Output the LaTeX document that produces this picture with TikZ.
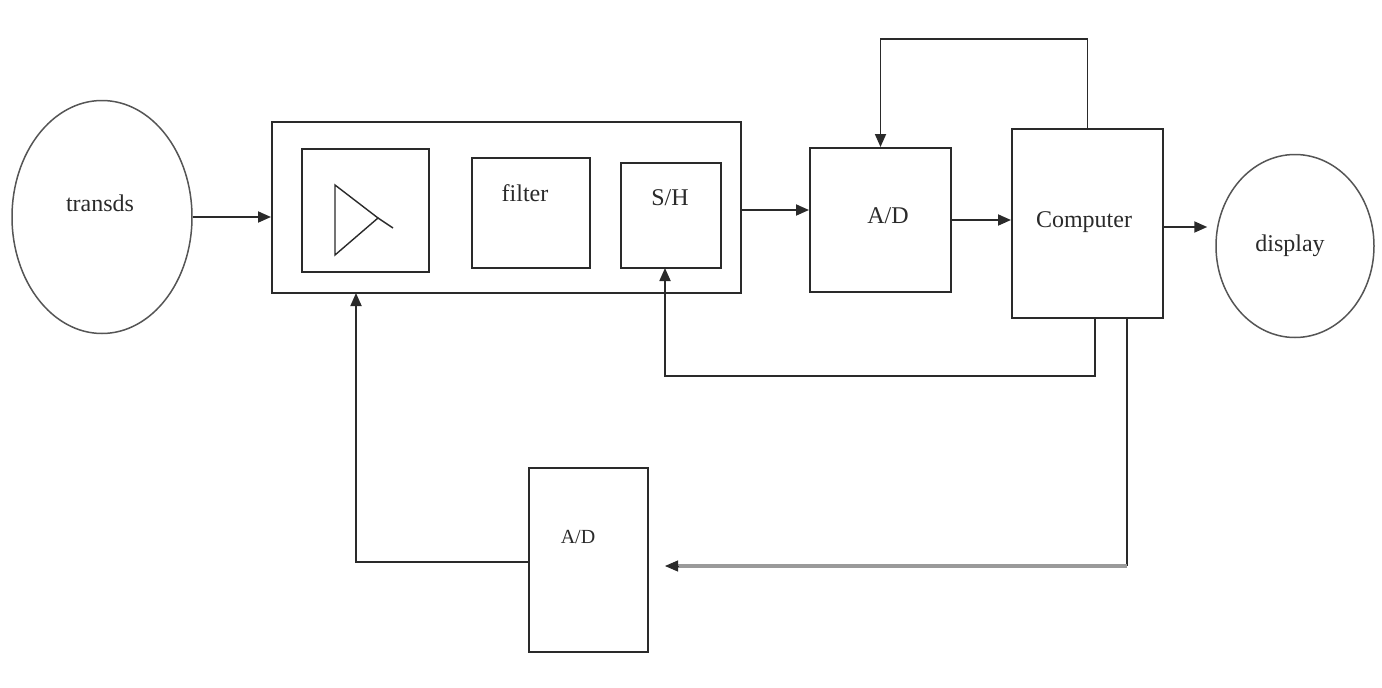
\documentclass[tikz,border=0pt]{standalone}
\usepackage{fontspec}
\setmainfont{Liberation Serif}
\usetikzlibrary{arrows.meta,shapes.geometric,calc}
\definecolor{ln}{HTML}{2A2A2A}
\definecolor{lg}{HTML}{9A9A9A}
\tikzset{
  blk/.style={draw=ln,line width=2pt,rectangle,inner sep=0pt},
  oval/.style={draw=ln!80,line width=1.5pt,ellipse,inner sep=0pt},
  lbl/.style={font=\fontsize{24}{26}\selectfont,text=ln,inner sep=0pt},
  arr/.style={draw=ln,line width=1.8pt,-{Triangle[length=13pt,width=11pt]}},
  wire/.style={draw=ln,line width=1.8pt}
}
\begin{document}
\begin{tikzpicture}[x=1pt,y=-1pt]
\useasboundingbox (0,0) rectangle (1382,688);
\fill[white] (0,0) rectangle (1382,688);
% ellipses
\node[oval,minimum width=180pt,minimum height=233pt] (trans) at (102,217) {};
\node[lbl] (transT) at (100,203) {transds};
\node[oval,minimum width=158pt,minimum height=183pt] (disp) at (1295,246) {};
\node[lbl] (dispT) at (1290,246) {display};
% big conditioning box
\node[blk,minimum width=469pt,minimum height=171pt] (big) at (506.5,207.5) {};
\node[blk,minimum width=127pt,minimum height=123pt] (amp) at (365.5,210.5) {};
\node[blk,minimum width=118pt,minimum height=110pt] (filt) at (531,213) {};
\node[lbl] (filtT) at (525,193) {filter};
\node[blk,minimum width=100pt,minimum height=105pt] (sh) at (671,215.5) {};
\node[lbl] (shT) at (670,198) {S/H};
% amplifier symbol
\draw[ln,line width=1.4pt] (335,185) -- (335,255) -- (378,218) -- cycle;
\draw[ln,line width=1.4pt] (378,218) -- (393,228);
% A/D and computer
\node[blk,minimum width=141pt,minimum height=144pt] (ad1) at (880.5,220) {};
\node[lbl] (ad1T) at (888,216) {A/D};
\node[blk,minimum width=151pt,minimum height=189pt] (comp) at (1087.5,223.5) {};
\node[lbl] (compT) at (1084,222) {Computer};
% lower A/D
\node[blk,minimum width=119pt,minimum height=184pt] (ad2) at (588.5,560) {};
\node[lbl,font=\fontsize{20}{22}\selectfont] (ad2T) at (578,537) {A/D};
% coordinates
\coordinate (cb1) at (1095,318);
\coordinate (cb2) at (1127,318);
\coordinate (bt) at (1127,566);
\coordinate (btend) at (665,566);
\coordinate (fb) at (356,293);
\coordinate (shin) at (665,268);
% connectors
\draw[arr] (trans.east) -- (big.west |- trans.east);
\draw[arr] (big.east |- 0,210) -- (ad1.west |- 0,210);
\draw[arr] (ad1.east) -- (ad1.east -| comp.west);
\draw[arr] (comp.east |- 0,227) -- ([xshift=-8pt]disp.west |- 0,227);
\draw[arr] (comp.north) -- ++(0,-89) -| (ad1.north);
\draw[arr] (cb1) -- ++(0,58) -| (shin);
\draw[wire] (cb2) -- (bt);
\draw[draw=lg,line width=4pt] (bt) -- ([xshift=12pt]btend);
\draw[draw=ln,line width=1pt,-{Triangle[length=13pt,width=11pt]}] ([xshift=14pt]btend) -- (btend);
\draw[arr] (ad2.west |- 0,562) -| (fb);
\end{tikzpicture}
\end{document}
